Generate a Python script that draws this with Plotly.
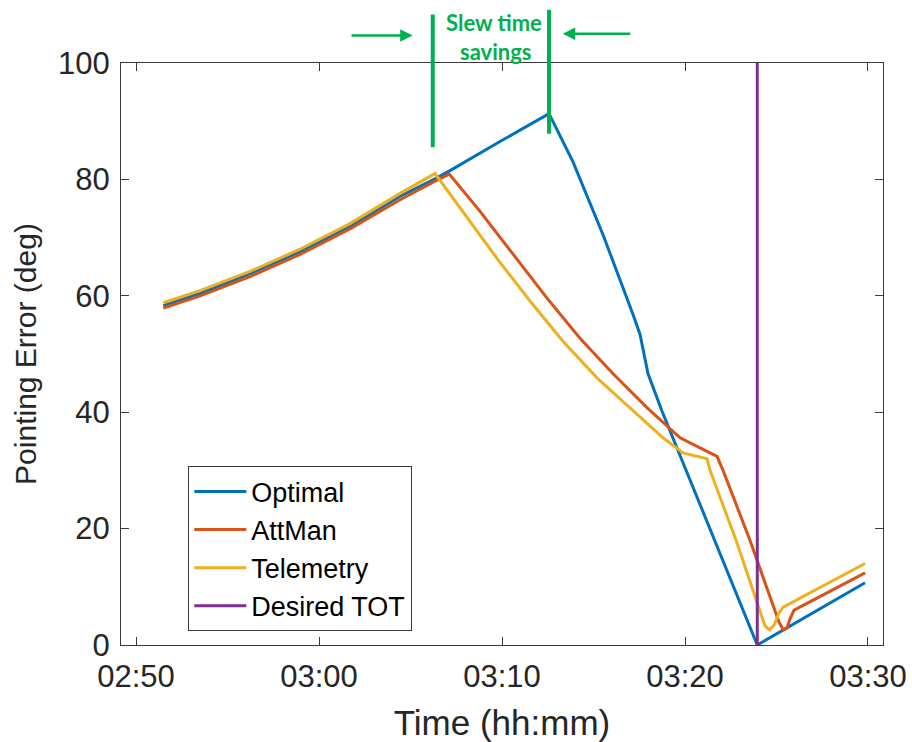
import pandas as pd
import plotly.graph_objects as go

# Time axis values are minutes after 02:50
T0 = pd.Timestamp("2018-06-01 02:50")

opt_min = [1.49, 3.50, 6.23, 8.96, 11.69, 14.43, 16.34, 17.16, 19.89, 22.57,
           23.88, 25.52, 27.16, 27.54, 27.98, 28.74, 33.95, 39.84]
opt_deg = [58.3, 60.4, 63.8, 67.6, 71.9, 77.1, 80.1, 81.5, 86.5, 91.3,
           83.0, 70.5, 56.8, 53.4, 46.6, 40.2, 0.0, 10.7]

att_min = [1.49, 3.50, 6.23, 8.96, 11.69, 14.43, 16.34, 17.12, 18.80, 20.60,
           22.46, 24.26, 26.07, 27.92, 29.73, 31.75, 32.08, 33.55, 35.14, 35.37,
           35.57, 35.74, 35.96, 39.84]
att_deg = [57.9, 60.0, 63.3, 67.1, 71.5, 76.5, 79.7, 80.9, 74.5, 67.1,
           59.6, 52.7, 46.6, 40.8, 35.6, 32.4, 30.0, 18.0, 3.9, 2.6,
           2.9, 4.5, 6.0, 12.4]

tel_min = [1.49, 3.50, 6.23, 8.96, 11.69, 14.43, 16.34, 17.87, 19.73, 21.53,
           23.33, 25.19, 26.99, 28.80, 29.89, 31.20, 31.37, 32.79, 34.37, 34.62,
           34.86, 35.14, 35.36, 39.84]
tel_deg = [58.8, 60.9, 64.2, 68.0, 72.4, 77.6, 81.0, 74.5, 66.4, 59.1,
           52.2, 45.9, 40.8, 35.6, 33.0, 32.0, 30.0, 18.0, 3.3, 2.6,
           3.4, 5.5, 6.5, 14.0]

tot_min = 33.95
tot_deg = [0, 100]

x_range_min = [-0.82, 40.82]
x_tick_min = [0, 10, 20, 30, 40]
x_tick_text = ["02:50", "03:00", "03:10", "03:20", "03:30"]
y_ticks = [0, 20, 40, 60, 80, 100]


def to_time(mins):
    return [T0 + pd.Timedelta(minutes=m) for m in mins]


COL_OPT = "#0072BD"
COL_ATT = "#D95319"
COL_TEL = "#EDB120"
COL_TOT = "#7E2F8E"
GREEN = "#00B050"
AX = "#3a3a3a"
TXT = "#262626"

fig = go.Figure()
for name, xs, ys, col in [
    ("Optimal", opt_min, opt_deg, COL_OPT),
    ("AttMan", att_min, att_deg, COL_ATT),
    ("Telemetry", tel_min, tel_deg, COL_TEL),
]:
    fig.add_trace(go.Scatter(x=to_time(xs), y=ys, mode="lines", name=name,
                             line=dict(color=col, width=3)))
fig.add_trace(go.Scatter(x=to_time([tot_min, tot_min]), y=tot_deg, mode="lines",
                         name="Desired TOT",
                         line=dict(color=COL_TOT, width=3)))

# plot area geometry (pixels)
L, R, TOP, BOT = 121, 883, 62.5, 645
W, H = 912, 742


def px_x(p):
    return (p - L) / (R - L)


def px_y(p):
    return (BOT - p) / (BOT - TOP)


def time_to_paper(m):
    return (m - x_range_min[0]) / (x_range_min[1] - x_range_min[0])


# markers at the end of the slew for telemetry and optimal
tel_peak = tel_min[tel_deg.index(max(tel_deg))]
opt_peak = opt_min[opt_deg.index(max(opt_deg))]
shapes = [
    dict(type="line", xref="paper", yref="paper",
         x0=time_to_paper(tel_peak) - 0.003, x1=time_to_paper(tel_peak) - 0.003,
         y0=px_y(146.7), y1=px_y(14), line=dict(color=GREEN, width=4)),
    dict(type="line", xref="paper", yref="paper",
         x0=time_to_paper(opt_peak), x1=time_to_paper(opt_peak),
         y0=px_y(133.3), y1=px_y(9.3), line=dict(color=GREEN, width=4)),
]

annotations = [
    dict(xref="paper", yref="paper", x=px_x(494), y=px_y(22), text="<b>Slew time</b>",
         showarrow=False, font=dict(family="Lato", size=22, color=GREEN),
         xanchor="center", yanchor="middle"),
    dict(xref="paper", yref="paper", x=px_x(495), y=px_y(51), text="<b>savings</b>",
         showarrow=False, font=dict(family="Lato", size=22, color=GREEN),
         xanchor="center", yanchor="middle"),
    dict(xref="paper", yref="paper", x=px_x(412.7), y=px_y(35), text="",
         showarrow=True, ax=-62.7, ay=0, arrowhead=2, arrowsize=1,
         arrowwidth=2.5, arrowcolor=GREEN, standoff=0),
    dict(xref="paper", yref="paper", x=px_x(562.7), y=px_y(33.3), text="",
         showarrow=True, ax=69, ay=0, arrowhead=2, arrowsize=1,
         arrowwidth=2.5, arrowcolor=GREEN, standoff=0),
]

axis_common = dict(
    showline=True, linecolor=AX, linewidth=1.3, mirror="ticks",
    ticks="inside", ticklen=8, tickwidth=1.3, tickcolor=AX,
    showgrid=False, zeroline=False, automargin=False,
    tickfont=dict(family="Liberation Sans", size=31, color=TXT),
)

fig.update_layout(
    width=W, height=H,
    margin=dict(l=L, r=W - R, t=TOP, b=H - BOT),
    paper_bgcolor="white", plot_bgcolor="white",
    font=dict(family="Liberation Sans", color=TXT),
    showlegend=True,
    legend=dict(x=px_x(188), y=px_y(466), xanchor="left", yanchor="top",
                bgcolor="white", bordercolor=AX, borderwidth=1.3,
                font=dict(family="Liberation Sans", size=27, color="#000000"),
                tracegroupgap=0, itemwidth=52),
    shapes=shapes,
    annotations=annotations,
)
fig.update_xaxes(
    **axis_common,
    type="date",
    range=to_time(x_range_min),
    tickvals=to_time(x_tick_min), ticktext=x_tick_text,
    ticklabelstandoff=4,
    title=dict(text="Time (hh:mm)", font=dict(family="Liberation Sans", size=35, color=TXT),
               standoff=18),
)
fig.update_yaxes(
    **axis_common,
    range=[0, 100], tickvals=y_ticks,
    ticklabelstandoff=4,
    title=dict(text="Pointing Error (deg)", font=dict(family="Liberation Sans", size=30, color=TXT),
               standoff=12),
)

fig.write_html("out.html")
